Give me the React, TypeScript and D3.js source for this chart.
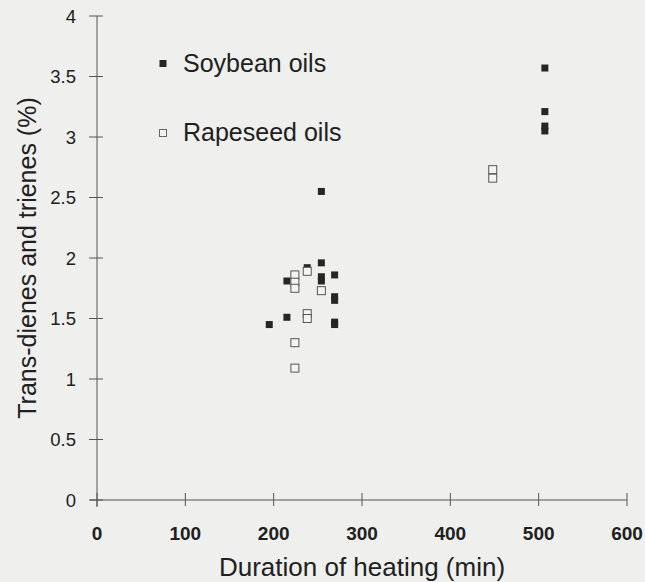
import React from "react";
import * as d3 from "d3";

type Pt = { t: number; v: number };

const soybean: Pt[] = [
  { t: 195, v: 1.45 },
  { t: 215, v: 1.51 },
  { t: 215, v: 1.81 },
  { t: 238, v: 1.92 },
  { t: 254, v: 2.55 },
  { t: 254, v: 1.96 },
  { t: 254, v: 1.845 },
  { t: 254, v: 1.81 },
  { t: 269, v: 1.86 },
  { t: 269, v: 1.68 },
  { t: 269, v: 1.65 },
  { t: 269, v: 1.47 },
  { t: 269, v: 1.45 },
  { t: 507, v: 3.57 },
  { t: 507, v: 3.21 },
  { t: 507, v: 3.09 },
  { t: 507, v: 3.05 },
];

const rapeseed: Pt[] = [
  { t: 224, v: 1.86 },
  { t: 224, v: 1.8 },
  { t: 224, v: 1.75 },
  { t: 238, v: 1.89 },
  { t: 254, v: 1.73 },
  { t: 238, v: 1.54 },
  { t: 238, v: 1.5 },
  { t: 224, v: 1.3 },
  { t: 224, v: 1.09 },
  { t: 448, v: 2.73 },
  { t: 448, v: 2.66 },
];

const xTicks = [0, 100, 200, 300, 400, 500, 600];
const yTicks = [0, 0.5, 1, 1.5, 2, 2.5, 3, 3.5, 4];

const W = 645;
const H = 582;
const font = "'Liberation Sans', Arial, Helvetica, sans-serif";
const ink = "#202020";

export default function App() {
  const x = d3.scaleLinear().domain([0, 600]).range([97, 627]);
  const y = d3.scaleLinear().domain([0, 4]).range([500, 16]);

  return (
    <svg
      width={W}
      height={H}
      style={{ position: "absolute", left: 0, top: 0, background: "#efefed" }}
    >
      <rect width={W} height={H} fill="#efefed" />

      {/* axes */}
      <line x1={x(0)} x2={x(0)} y1={y(4)} y2={y(0) + 7} stroke="#555" strokeWidth={1} />
      <line x1={x(0) - 7} x2={x(600)} y1={y(0)} y2={y(0)} stroke="#555" strokeWidth={1} />

      {yTicks.map((d) => (
        <g key={"y" + d}>
          <line x1={x(0) - 8} x2={x(0) + 6} y1={y(d)} y2={y(d)} stroke="#555" />
          <text
            x={76}
            y={y(d)}
            dy="0.36em"
            textAnchor="end"
            fontFamily={font}
            fontSize={18.5}
            fill={ink}
          >
            {d}
          </text>
        </g>
      ))}

      {xTicks.map((d) => (
        <g key={"x" + d}>
          <line x1={x(d)} x2={x(d)} y1={y(0) - 7} y2={y(0) + 6} stroke="#555" />
          <text
            x={x(d)}
            y={540}
            textAnchor="middle"
            fontFamily={font}
            fontSize={19}
            fontWeight="bold"
            fill={ink}
          >
            {d}
          </text>
        </g>
      ))}

      {/* axis titles */}
      <text
        x={362}
        y={576}
        textAnchor="middle"
        fontFamily={font}
        fontSize={26}
        fill={ink}
      >
        Duration of heating (min)
      </text>
      <text
        transform={`translate(36,${(y(0) + y(4)) / 2}) rotate(-90)`}
        textAnchor="middle"
        fontFamily={font}
        fontSize={25}
        fill={ink}
      >
        Trans-dienes and trienes (%)
      </text>

      {/* data */}
      {soybean.map((d, i) => (
        <rect
          key={"s" + i}
          x={x(d.t) - 3.5}
          y={y(d.v) - 3.5}
          width={7}
          height={7}
          fill="#262626"
        />
      ))}
      {rapeseed.map((d, i) => (
        <rect
          key={"r" + i}
          x={x(d.t) - 4}
          y={y(d.v) - 4}
          width={8}
          height={8}
          fill="#f4f4f2"
          stroke="#555"
          strokeWidth={1}
        />
      ))}

      {/* legend */}
      <rect x={159.5} y={60} width={7} height={7} fill="#262626" />
      <text x={183} y={72} fontFamily={font} fontSize={25} fill={ink}>
        Soybean oils
      </text>
      <rect x={159.5} y={129.5} width={7} height={7} fill="#f4f4f2" stroke="#666" />
      <text x={183} y={141} fontFamily={font} fontSize={25} fill={ink}>
        Rapeseed oils
      </text>
    </svg>
  );
}
